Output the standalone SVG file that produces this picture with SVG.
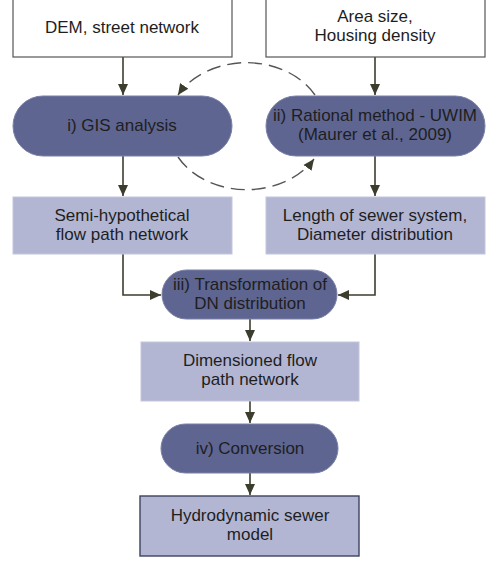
<svg xmlns="http://www.w3.org/2000/svg" width="488" height="572" viewBox="0 0 488 572">
<defs>
<marker id="ah" markerUnits="userSpaceOnUse" markerWidth="12" markerHeight="12" viewBox="0 0 12 12" refX="11" refY="6" orient="auto">
<path d="M0,1 L11,6 L0,11 Z" fill="#3d3d2e"/>
</marker>
<marker id="ahd" markerUnits="userSpaceOnUse" markerWidth="12" markerHeight="12" viewBox="0 0 12 12" refX="11" refY="6" orient="auto">
<path d="M0,1 L11,6 L0,11 Z" fill="#3d3d2e"/>
</marker>
<style>
.in{fill:#ffffff;stroke:#555555;stroke-width:1.2}
.pill{fill:#5e6591;stroke:#7a80a6;stroke-width:1}
.box{fill:#b3b6d3;stroke:#c4c6dc;stroke-width:1}
.out{fill:#b3b6d3;stroke:#3c4262;stroke-width:1.4}
text{font-family:"Liberation Sans",Arial,sans-serif;font-size:17px;fill:#1e1e1e;text-anchor:middle}
.c{stroke:#3d3d2e;stroke-width:1.6;fill:none}
.d{stroke:#555555;stroke-width:1.4;fill:none;stroke-dasharray:14 7}
</style>
</defs>
<rect width="488" height="572" fill="#ffffff"/>
<g id="connectors">
<line class="c" x1="123" y1="57" x2="123" y2="95" marker-end="url(#ah)"/>
<line class="c" x1="375" y1="57" x2="375" y2="95" marker-end="url(#ah)"/>
<line class="c" x1="123" y1="156" x2="123" y2="196" marker-end="url(#ah)"/>
<line class="c" x1="375" y1="156" x2="375" y2="196" marker-end="url(#ah)"/>
<path class="c" d="M123,254 V295 H161" marker-end="url(#ah)"/>
<path class="c" d="M375,254 V295 H338" marker-end="url(#ah)"/>
<line class="c" x1="250" y1="319" x2="250" y2="341" marker-end="url(#ah)"/>
<line class="c" x1="250" y1="401" x2="250" y2="423" marker-end="url(#ah)"/>
<line class="c" x1="250" y1="473" x2="250" y2="495" marker-end="url(#ah)"/>
<path class="d" d="M315,95 A78 62 0 0 0 178,95" marker-end="url(#ahd)"/>
<path class="d" d="M178,157 A78 62 0 0 0 314,159" marker-end="url(#ahd)"/>
</g>
<g id="n-dem">
<rect class="in" x="13" y="-2" width="219" height="59"/>
<text x="122" y="33">DEM, street network</text>
</g>
<g id="n-area">
<rect class="in" x="266" y="-2" width="219" height="59"/>
<text x="375" y="22">Area size,</text>
<text x="375" y="41">Housing density</text>
</g>
<g id="n-gis">
<rect class="pill" x="13" y="96" width="219" height="60" rx="30" ry="30"/>
<text x="122" y="131">i) GIS analysis</text>
</g>
<g id="n-rational">
<rect class="pill" x="266" y="96" width="219" height="60" rx="30" ry="30"/>
<text x="375" y="121">ii) Rational method - UWIM</text>
<text x="375" y="140">(Maurer et al., 2009)</text>
</g>
<g id="n-semi">
<rect class="box" x="13" y="197" width="219" height="57"/>
<text x="122" y="221">Semi-hypothetical</text>
<text x="122" y="240">flow path network</text>
</g>
<g id="n-length">
<rect class="box" x="266" y="197" width="219" height="57"/>
<text x="375" y="221">Length of sewer system,</text>
<text x="375" y="240">Diameter distribution</text>
</g>
<g id="n-transform">
<rect class="pill" x="162" y="270" width="175" height="49" rx="24.5" ry="24.5"/>
<text x="250" y="290">iii) Transformation of</text>
<text x="250" y="309">DN distribution</text>
</g>
<g id="n-dimensioned">
<rect class="box" x="141" y="342" width="218" height="59"/>
<text x="250" y="366">Dimensioned flow</text>
<text x="250" y="385">path network</text>
</g>
<g id="n-conversion">
<rect class="pill" x="161" y="424" width="177" height="49" rx="24.5" ry="24.5"/>
<text x="250" y="454">iv) Conversion</text>
</g>
<g id="n-hydro">
<rect class="out" x="140" y="496" width="219" height="60"/>
<text x="250" y="521">Hydrodynamic sewer</text>
<text x="250" y="540">model</text>
</g>
</svg>
